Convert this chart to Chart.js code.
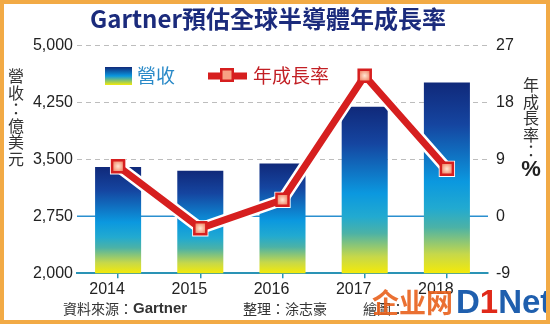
<!DOCTYPE html>
<html>
<head>
<meta charset="utf-8">
<script src="https://cdn.jsdelivr.net/npm/chart.js@4.4.1/dist/chart.umd.min.js"></script>
<style>
  html, body { margin: 0; padding: 0; background: #fff; }
  #wrap { width: 550px; height: 324px; box-sizing: border-box; border: 4px solid #f2aa45; background: #fff; }
  canvas { display: block; }
</style>
</head>
<body>
<div id="wrap"><canvas id="chart" width="542" height="316"></canvas></div>
<script>
// data
const years = ['2014', '2015', '2016', '2017', '2018'];
const revenue = [3400, 3348, 3445, 4190, 4510];     // 營收 (億美元)
const growth = [7.9, -1.9, 2.6, 22.2, 7.5];          // 年成長率 (%)
const revenueTicks = [2000, 2750, 3500, 4250, 5000];
const growthTicks = [-9, 0, 9, 18, 27];

const cjk = "'Noto Sans CJK TC', 'Noto Sans CJK SC', sans-serif";
const latin = "'Liberation Sans', Arial, sans-serif";

Chart.defaults.font.family = latin;
Chart.defaults.font.size = 16;
Chart.defaults.color = '#222';

function barFill(c) {
  const chart = c.chart;
  if (!chart.chartArea || c.type !== 'data') return '#1a6fc0';
  const y = chart.scales.y;
  const top = y.getPixelForValue(revenue[c.dataIndex]);
  const bot = y.getPixelForValue(y.min);
  const g = chart.ctx.createLinearGradient(0, top, 0, bot);
  g.addColorStop(0, '#10297a');
  g.addColorStop(0.22, '#1545a0');
  g.addColorStop(0.52, '#0b98df');
  g.addColorStop(0.66, '#22aad0');
  g.addColorStop(0.76, '#4cb2a6');
  g.addColorStop(0.9, '#c6d84a');
  g.addColorStop(1, '#f4ea08');
  return g;
}

function markerFill(c) {
  const chart = c.chart;
  if (!chart.chartArea || c.type !== 'data') return '#f9a88c';
  const px = chart.scales.x.getPixelForValue(c.dataIndex);
  const py = chart.scales.y1.getPixelForValue(growth[c.dataIndex]);
  const g = chart.ctx.createRadialGradient(px, py, 0, px, py, 7);
  g.addColorStop(0, '#ffe6d2');
  g.addColorStop(1, '#f07a5a');
  return g;
}

function vText(ctx, chars, x, y, step) {
  chars.forEach((ch, i) => ctx.fillText(ch, x, y + i * step));
}

const decor = {
  id: 'decor',
  beforeDatasetsDraw(chart) {
    // solid blue line at 2,750 / 0
    const { ctx, chartArea: a, scales: { y } } = chart;
    const py = y.getPixelForValue(revenueTicks[1]);
    ctx.save();
    ctx.strokeStyle = '#2b8fcf';
    ctx.lineWidth = 1.5;
    ctx.beginPath();
    ctx.moveTo(a.left, py);
    ctx.lineTo(a.right, py);
    ctx.stroke();
    ctx.restore();
  },
  afterDraw(chart) {
    const ctx = chart.ctx;
    ctx.save();
    ctx.textBaseline = 'middle';

    // title
    ctx.fillStyle = '#1b2b7c';
    ctx.textAlign = 'center';
    ctx.font = "bold 24px " + cjk;
    ctx.fillText('Gartner預估全球半導體年成長率', 264, 15);

    // legend
    const sw = ctx.createLinearGradient(0, 63, 0, 81);
    sw.addColorStop(0, '#10297a');
    sw.addColorStop(0.5, '#0b98df');
    sw.addColorStop(1, '#f4ea08');
    ctx.fillStyle = sw;
    ctx.fillRect(101, 63, 27, 18);
    ctx.textAlign = 'left';
    ctx.font = "19px " + cjk;
    ctx.fillStyle = '#2a8ac8';
    ctx.fillText('營收', 133, 72);

    ctx.fillStyle = '#d61f1f';
    ctx.fillRect(204, 68.5, 39, 7);
    ctx.fillRect(216, 64, 14, 14);
    ctx.fillStyle = '#f7a184';
    ctx.fillRect(218.5, 66.5, 9, 9);
    ctx.fillStyle = '#c21f24';
    ctx.fillText('年成長率', 249, 72);

    // axis titles (upright, stacked)
    ctx.textAlign = 'center';
    ctx.fillStyle = '#333';
    ctx.font = "16px " + cjk;
    vText(ctx, ['營', '收', '：', '億', '美', '元'], 12, 72, 16.5);
    vText(ctx, ['年', '成', '長', '率', '：'], 527, 81, 16.5);
    ctx.font = "bold 22px " + latin;
    ctx.fillStyle = '#222';
    ctx.fillText('%', 527, 166);

    // footer
    ctx.textAlign = 'left';
    ctx.fillStyle = '#333';
    ctx.font = "14px " + cjk;
    ctx.fillText('資料來源：', 59, 305);
    const w = ctx.measureText('資料來源：').width;
    ctx.font = "bold 15px " + latin;
    ctx.fillText('Gartner', 59 + w, 305);
    ctx.font = "14px " + cjk;
    ctx.fillText('整理：涂志豪', 239, 305);
    ctx.fillText('繪圖：', 359, 305);

    // watermark
    ctx.textBaseline = 'alphabetic';
    ctx.font = "bold 27px 'Noto Sans CJK SC', sans-serif";
    ctx.fillStyle = 'rgba(232, 96, 28, 0.9)';
    ctx.fillText('企业网', 368, 309);
    ctx.font = "bold 33px " + latin;
    ctx.fillStyle = '#1f5fae';
    ctx.fillText('D', 452, 309);
    const dw = ctx.measureText('D').width;
    ctx.fillStyle = '#e02a1a';
    ctx.fillText('1', 452 + dw, 309);
    const ow = ctx.measureText('1').width;
    ctx.fillStyle = '#1f5fae';
    ctx.fillText('Net', 452 + dw + ow, 309);
    ctx.restore();
  }
};

new Chart(document.getElementById('chart'), {
  data: {
    labels: years,
    datasets: [
      {
        type: 'bar',
        label: '營收',
        data: revenue,
        yAxisID: 'y',
        order: 3,
        backgroundColor: barFill,
        barPercentage: 0.56,
        categoryPercentage: 1
      },
      {
        type: 'line',
        label: 'outline',
        data: growth,
        yAxisID: 'y1',
        order: 2,
        borderColor: '#ffffff',
        borderWidth: 12,
        pointStyle: 'rect',
        pointRadius: 11.5,
        pointBackgroundColor: '#ffffff',
        pointBorderWidth: 0,
        tension: 0
      },
      {
        type: 'line',
        label: '年成長率',
        data: growth,
        yAxisID: 'y1',
        order: 1,
        borderColor: '#d61f1f',
        borderWidth: 7,
        pointStyle: 'rect',
        pointRadius: 8.5,
        pointBackgroundColor: markerFill,
        pointBorderColor: '#d61f1f',
        pointBorderWidth: 2.5,
        tension: 0
      }
    ]
  },
  options: {
    responsive: false,
    animation: false,
    layout: { padding: { top: 41.3, left: 0, right: 0, bottom: 0 } },
    plugins: {
      legend: { display: false },
      title: { display: false },
      tooltip: { enabled: false }
    },
    scales: {
      x: {
        offset: true,
        grid: { offset: false, drawOnChartArea: false, drawTicks: true, tickLength: 5, color: '#2a93b5', lineWidth: 1.5 },
        border: { display: true, color: '#2a93b5', width: 2 },
        ticks: { padding: 2, labelOffset: -11, color: '#222', font: { size: 16 } },
        afterFit(s) { s.height = 46.7; }
      },
      y: {
        position: 'left',
        min: revenueTicks[0],
        max: revenueTicks[revenueTicks.length - 1],
        afterBuildTicks(s) { s.ticks = revenueTicks.map(v => ({ value: v })); },
        grid: {
          drawTicks: false,
          lineWidth: 1,
          color: c => (c.tick && (c.tick.value === revenueTicks[0] || c.tick.value === revenueTicks[1])) ? 'rgba(0,0,0,0)' : '#bdbdbd'
        },
        border: { display: false, dash: [5, 4] },
        ticks: { padding: 4, color: '#222', font: { size: 16 }, callback: v => v.toLocaleString('en-US') },
        afterFit(s) { s.width = 73; }
      },
      y1: {
        position: 'right',
        min: growthTicks[0],
        max: growthTicks[growthTicks.length - 1],
        afterBuildTicks(s) { s.ticks = growthTicks.map(v => ({ value: v })); },
        grid: { drawOnChartArea: false, drawTicks: false },
        border: { display: false },
        ticks: { padding: 8, color: '#222', font: { size: 16 } },
        afterFit(s) { s.width = 58; }
      }
    }
  },
  plugins: [decor]
});
</script>
</body>
</html>
